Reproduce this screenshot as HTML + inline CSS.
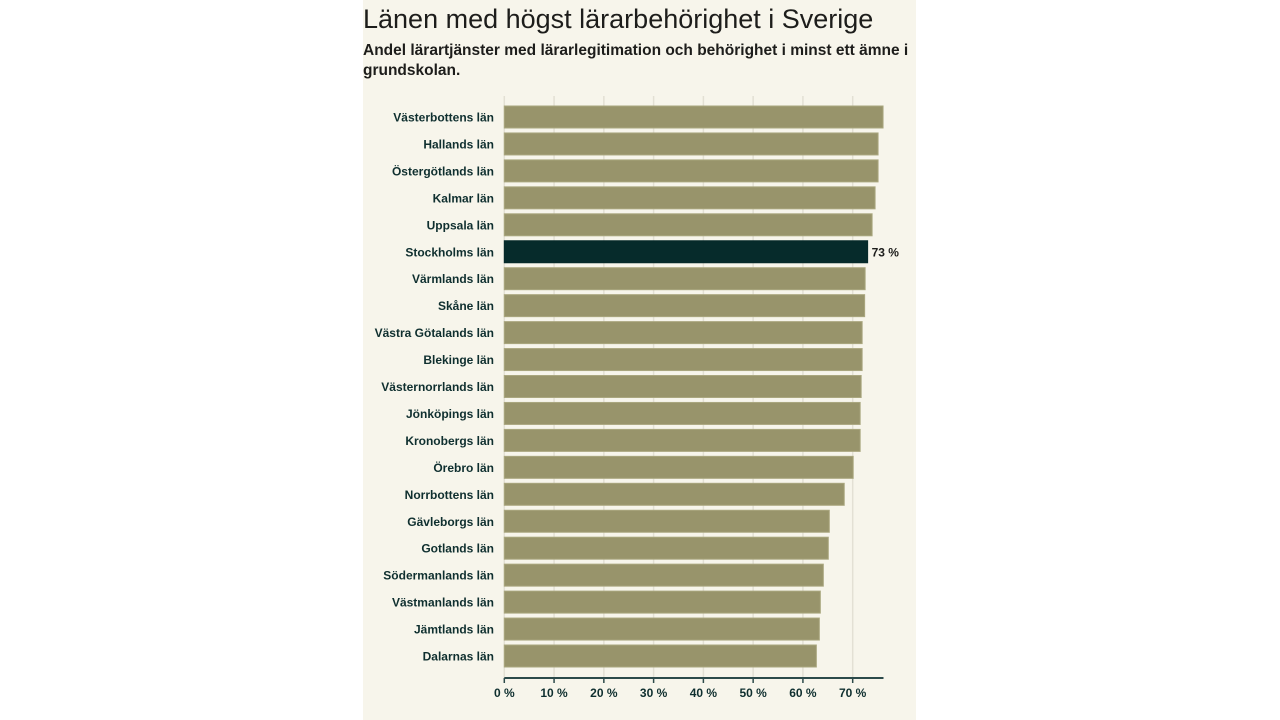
<!DOCTYPE html>
<html><head><meta charset="utf-8"><style>
body{margin:0;width:1280px;height:720px;background:#fff;overflow:hidden;font-family:"Liberation Sans",sans-serif}
#panel{position:absolute;left:363px;top:0;width:553px;height:720px;background:#f7f5eb}
h1{position:absolute;left:0;top:4px;margin:0;font-size:27px;font-weight:normal;color:#1d1d1b;white-space:nowrap}
#sub{position:absolute;left:0;top:41px;width:550px;margin:0;font-size:15.5px;font-weight:bold;color:#1d1d1b;line-height:20px}
svg{position:absolute;left:0;top:0}
</style></head><body>
<div id="panel">
<h1>Länen med högst lärarbehörighet i Sverige</h1>
<p id="sub">Andel lärartjänster med lärarlegitimation och behörighet i minst ett ämne i grundskolan.</p>
</div>
<svg id="chart" width="1280" height="720"></svg>
<script>
const categories=["Västerbottens län","Hallands län","Östergötlands län","Kalmar län","Uppsala län","Stockholms län","Värmlands län","Skåne län","Västra Götalands län","Blekinge län","Västernorrlands län","Jönköpings län","Kronobergs län","Örebro län","Norrbottens län","Gävleborgs län","Gotlands län","Södermanlands län","Västmanlands län","Jämtlands län","Dalarnas län"];
const values=[76.1,75.1,75.1,74.5,73.9,73.0,72.5,72.4,71.9,71.9,71.7,71.5,71.5,70.1,68.3,65.3,65.1,64.1,63.5,63.3,62.7];
const ticks=[0,10,20,30,40,50,60,70];
const highlight="Stockholms län";
const NS="http://www.w3.org/2000/svg",svg=document.getElementById('chart');
const x0=504.3,kx=4.977,y0=117,dy=26.95,bh=22,gridTop=96,axisY=678;
const X=v=>x0+v*kx, Y=i=>y0+i*dy;
function mk(t,a,p){const e=document.createElementNS(NS,t);for(const k in a)e.setAttribute(k,a[k]);(p||svg).appendChild(e);return e;}
ticks.forEach(t=>{
 const g=mk('line',{x1:X(t),x2:X(t),y1:gridTop,y2:axisY,stroke:'#e3e0d4','stroke-width':1.5});
 
 
 const tk=mk('line',{x1:X(t),x2:X(t),y1:axisY,y2:axisY+5,stroke:'#2c4a4a','stroke-width':1.5});
 
 
 const l=mk('text',{x:X(t),y:axisY+19,'text-anchor':'middle','font-size':12,'font-weight':'bold',fill:'#0f2f2f'});
 l.textContent=t+' %';
 
 
});
categories.forEach((c,i)=>{
 const hl=c===highlight;
 const r=mk('rect',{x:x0,y:Y(i)-bh/2,width:X(values[i])-x0,height:bh,fill:hl?'#062b2b':'#98946b',stroke:hl?'#062b2b':'#aaa77f','stroke-width':1});
 
 
 const l=mk('text',{x:494,y:Y(i)+4.5,'text-anchor':'end','font-size':12,'font-weight':'bold',fill:'#0f2f2f'});
 l.textContent=c;
 
 
 if(hl){
  const v=mk('text',{x:X(values[i])+4,y:Y(i)+4.5,'font-size':12,'font-weight':'bold',fill:'#1d1d1b'});
  v.textContent=Math.round(values[i])+' %';
  
  
 }
});
const ax=mk('line',{x1:x0,x2:883.5,y1:axisY,y2:axisY,stroke:'#2c4a4a','stroke-width':2});


</script>
</body></html>
